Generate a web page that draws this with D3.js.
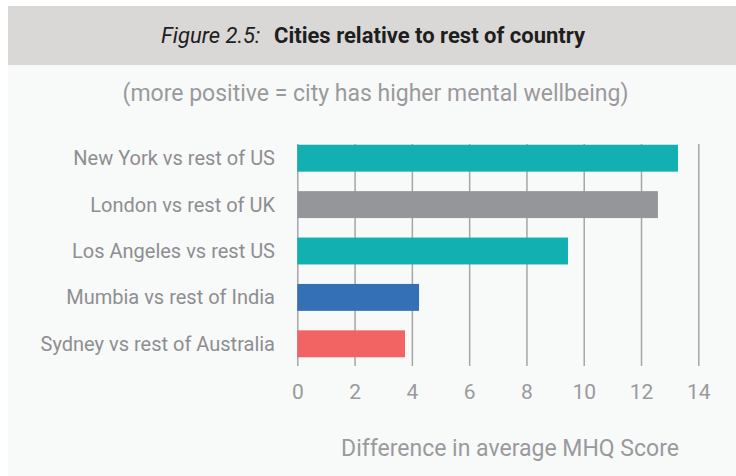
<!DOCTYPE html>
<html><head><meta charset="utf-8">
<script src="https://cdn.jsdelivr.net/npm/d3@7"></script>
<style>
html,body{margin:0;padding:0;background:#ffffff;}
svg{display:block;font-family:Roboto, "Noto Sans", sans-serif;}
</style></head>
<body>
<svg id="chart" width="736" height="476"></svg>
<script>
const categories = ["New York vs rest of US","London vs rest of UK","Los Angeles vs rest US","Mumbia vs rest of India","Sydney vs rest of Australia"];
const values = [13.29, 12.59, 9.45, 4.25, 3.76];
const colors = ["#13b0b1","#95969a","#13b0b1","#3470b6","#f26363"];
const xTicks = [0,2,4,6,8,10,12,14];
const titleItalic = "Figure 2.5:";
const titleBold = "Cities relative to rest of country";
const subtitle = "(more positive = city has higher mental wellbeing)";
const xLabel = "Difference in average MHQ Score";

const svg = d3.select("#chart");
svg.append("rect").attr("x",8).attr("y",65).attr("width",728).attr("height",411).attr("fill","#f8f9f9");
svg.append("rect").attr("x",8).attr("y",6).attr("width",728).attr("height",59).attr("fill","#d9d8d6");

const t = svg.append("text").attr("x",161).attr("y",43).attr("font-size",22).attr("fill","#1e1e1e");
t.append("tspan").attr("font-style","italic").text(titleItalic);
t.append("tspan").attr("x",274).attr("font-weight","bold").text(titleBold);

svg.append("text").attr("x",375.5).attr("y",101).attr("text-anchor","middle")
  .attr("font-size",23).attr("fill","#9a9a9c").text(subtitle);

const x = d3.scaleLinear().domain([0,14]).range([297.3,698.3]);
const y = d3.scaleBand().domain(categories).range([135,367]).paddingInner(0.42).paddingOuter(0.21);

const g = svg.append("g");
const axis = d3.axisBottom(x).tickValues(xTicks).tickSize(366-144).tickFormat(d3.format("d"));
const ax = g.append("g").attr("transform","translate(0,144)").call(axis);
ax.select(".domain").remove();
ax.selectAll(".tick line").attr("stroke","#a6a6a6").attr("stroke-width",1.5);
ax.selectAll(".tick text").attr("font-size",21).attr("fill","#9a9a9c").attr("y",248).attr("dy","0.35em")
  .attr("font-family","Roboto, sans-serif");

g.selectAll("rect.bar").data(values).join("rect").attr("class","bar")
  .attr("x",x(0)).attr("y",(d,i)=>y(categories[i]))
  .attr("width",d=>x(d)-x(0)).attr("height",y.bandwidth())
  .attr("fill",(d,i)=>colors[i]);

g.selectAll("text.cat").data(categories).join("text").attr("class","cat")
  .attr("x",275).attr("y",d=>y(d)+y.bandwidth()/2).attr("dy","0.35em")
  .attr("text-anchor","end").attr("font-size",20).attr("fill","#8e8e91").text(d=>d);

svg.append("text").attr("x",510).attr("y",456).attr("text-anchor","middle")
  .attr("font-size",23).attr("fill","#9a9a9c").text(xLabel);
</script>
</body></html>
